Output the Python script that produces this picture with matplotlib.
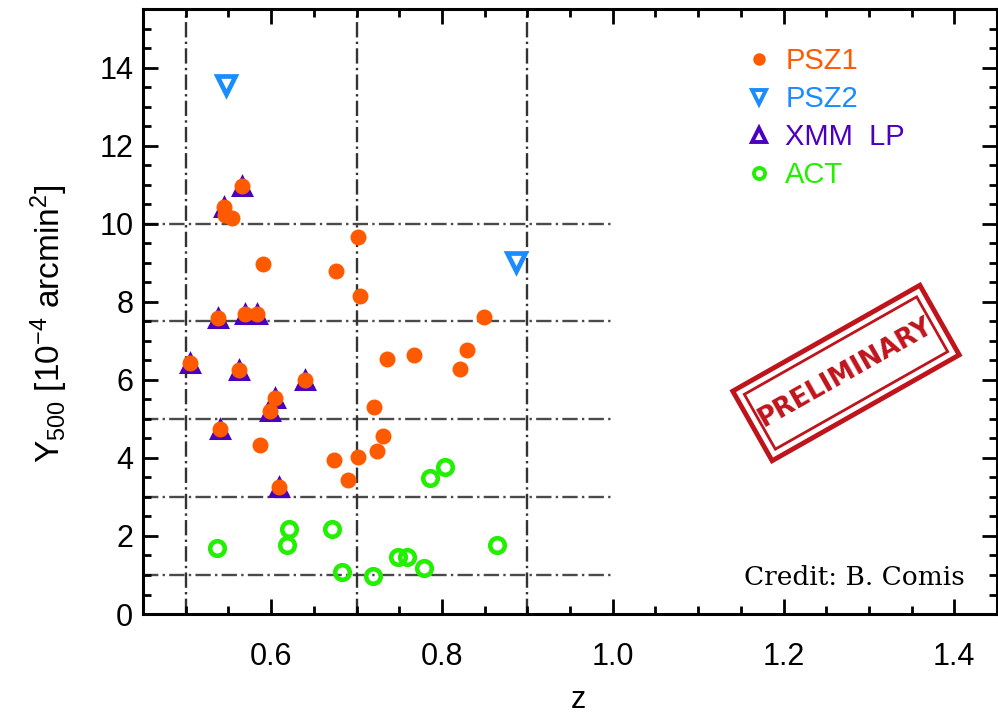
import matplotlib
matplotlib.use("Agg")
import matplotlib.pyplot as plt
from matplotlib.lines import Line2D
from matplotlib.patches import Rectangle
from matplotlib.transforms import Affine2D
from matplotlib.ticker import MultipleLocator

plt.rcParams["font.family"] = ["Liberation Sans", "DejaVu Sans"]
plt.rcParams["mathtext.fontset"] = "custom"
plt.rcParams["mathtext.rm"] = "Liberation Sans"
plt.rcParams["mathtext.it"] = "Liberation Sans:italic"

# PSZ1 clusters (the first twelve are also in the XMM large programme)
psz1_z = [0.566, 0.545, 0.538, 0.569, 0.584, 0.505, 0.562, 0.640, 0.605, 0.599,
          0.540, 0.609,
          0.546, 0.554, 0.591, 0.587, 0.702, 0.676, 0.704, 0.849, 0.829, 0.767,
          0.736, 0.821, 0.720, 0.731, 0.724, 0.702, 0.674, 0.690]
psz1_y = [10.96, 10.44, 7.58, 7.69, 7.69, 6.43, 6.26, 6.00, 5.53, 5.21,
          4.74, 3.25,
          10.23, 10.15, 8.97, 4.32, 9.66, 8.78, 8.16, 7.62, 6.77, 6.64,
          6.53, 6.28, 5.30, 4.55, 4.19, 4.03, 3.95, 3.44]

xmm_z = [0.566, 0.545, 0.538, 0.569, 0.584, 0.505, 0.562, 0.640, 0.605, 0.599,
         0.540, 0.609]
xmm_y = [10.96, 10.44, 7.58, 7.69, 7.69, 6.43, 6.26, 6.00, 5.53, 5.21,
         4.74, 3.25]

psz2_z = [0.547, 0.887]
psz2_y = [13.56, 9.03]

act_z = [0.537, 0.621, 0.619, 0.671, 0.683, 0.719, 0.749, 0.759, 0.779, 0.864,
         0.786, 0.804]
act_y = [1.68, 2.17, 1.77, 2.17, 1.07, 0.97, 1.47, 1.47, 1.17, 1.77,
         3.48, 3.78]

grid_y = [1, 3, 5, 7.5, 10]
grid_z = [0.5, 0.7, 0.9]

c_psz1 = "#ff5a00"
c_psz2 = "#1a8cff"
c_xmm = "#4b00c0"
c_act = "#22f000"
c_stamp = "#c0141c"

fig = plt.figure(figsize=(9.98, 7.14), dpi=100)
ax = fig.add_axes([0.1433, 0.140, 0.8557, 0.8473])
ax.set_xlim(0.45, 1.45)
ax.set_ylim(0, 15.5)

dashdot = (0, (6.5, 1.8, 1, 1.8))
ax.hlines(grid_y, 0.45, 1.0, colors="#4a4a4a", linewidth=1.7,
          linestyles=[dashdot], zorder=1)
ax.vlines(grid_z, 0, 15.5, colors="#333333", linewidth=1.7,
          linestyles=[dashdot], zorder=1)

ax.plot(xmm_z, xmm_y, ls="none", marker="^", ms=13, mfc=c_xmm, mec=c_xmm,
        mew=2.2, zorder=3)
ax.plot(psz1_z, psz1_y, ls="none", marker="o", ms=11.5, mfc=c_psz1, mec="none",
        zorder=4)
ax.plot(psz2_z, psz2_y, ls="none", marker="v", ms=13, mfc="white", mec=c_psz2,
        mew=3.4, zorder=4)
ax.plot(act_z, act_y, ls="none", marker="o", ms=10.5, mfc="none", mec=c_act,
        mew=3.3, zorder=4)

handles = [
    Line2D([], [], ls="none", marker="o", ms=9, mfc=c_psz1, mec="none"),
    Line2D([], [], ls="none", marker="v", ms=10, mfc="white", mec=c_psz2, mew=2.8),
    Line2D([], [], ls="none", marker="^", ms=10, mfc="white", mec=c_xmm, mew=2.8),
    Line2D([], [], ls="none", marker="o", ms=8, mfc="none", mec=c_act, mew=2.8),
]
ax.legend(handles, ["PSZ1", "PSZ2", "XMM  LP", "ACT"],
          labelcolor=[c_psz1, c_psz2, c_xmm, c_act],
          loc="upper left", bbox_to_anchor=(0.706, 0.937), frameon=False,
          fontsize=21, handlelength=0.9, handletextpad=0.45, labelspacing=0.34,
          borderpad=0, borderaxespad=0)

ax.xaxis.set_major_locator(MultipleLocator(0.2))
ax.xaxis.set_minor_locator(MultipleLocator(0.05))
ax.yaxis.set_major_locator(MultipleLocator(2))
ax.yaxis.set_minor_locator(MultipleLocator(0.5))
ax.tick_params(which="both", direction="in", top=True, right=True, width=2,
               labelsize=22, color="black")
ax.tick_params(which="major", length=11)
ax.tick_params(which="minor", length=6)
ax.tick_params(axis="x", pad=20)
ax.tick_params(axis="y", pad=7)
for sp in ax.spines.values():
    sp.set_linewidth(2.2)

ax.set_xlabel("z", fontsize=22)
ax.set_ylabel(r"Y$_{500}$ [10$^{-4}$ arcmin$^{2}$]", fontsize=24)
ax.xaxis.set_label_coords(0.51, -0.118)
ax.yaxis.set_label_coords(-0.086, 0.48)

ax.text(0.9625, 0.06, "Credit: B. Comis", transform=ax.transAxes,
        ha="right", va="center", fontsize=19, family="DejaVu Serif")

# rubber stamp, laid out in inches on the figure
stamp_tr = Affine2D().rotate_deg(29.5).translate(8.46, 3.41) + fig.dpi_scale_trans
fig.add_artist(Rectangle((-1.075, -0.40), 2.15, 0.80, fill=False, ec=c_stamp,
                         lw=3.5, transform=stamp_tr))
fig.add_artist(Rectangle((-0.99, -0.315), 1.98, 0.63, fill=False, ec=c_stamp,
                         lw=2.0, transform=stamp_tr))
fig.text(8.46 / 9.98, 3.41 / 7.14, "PRELIMINARY", rotation=29.5,
         rotation_mode="anchor", ha="center", va="center", color=c_stamp,
         fontsize=18.5, fontweight="heavy", family="DejaVu Sans")

fig.savefig("out.png", dpi=100)
